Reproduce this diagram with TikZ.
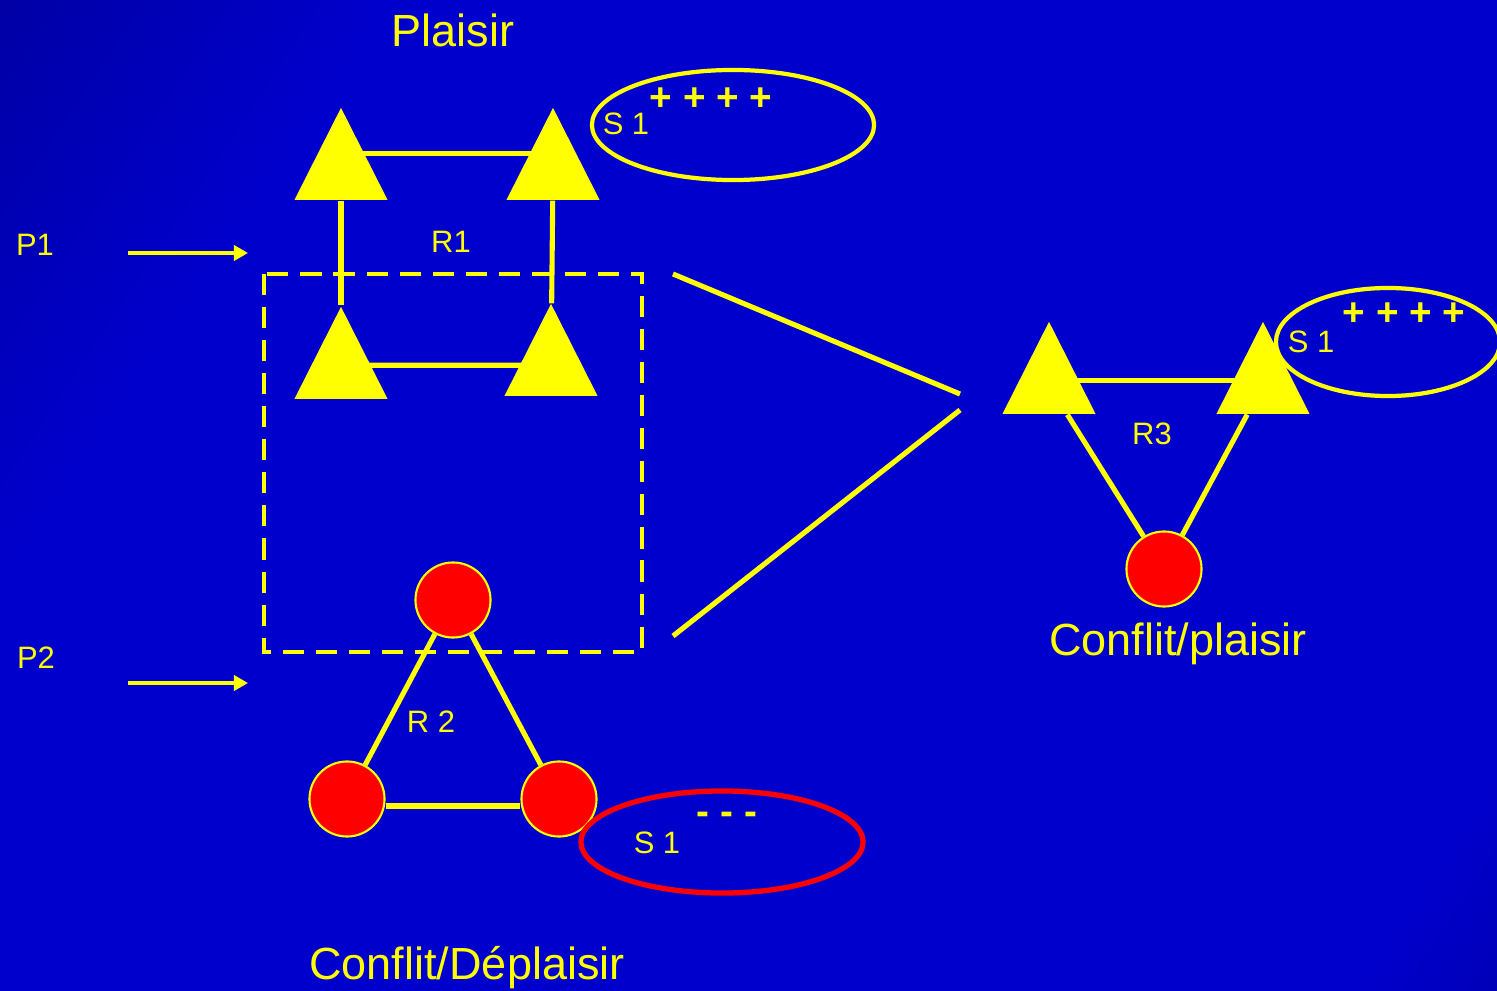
\documentclass[tikz,border=0pt]{standalone}
\usepackage{fontspec}
\setmainfont{Liberation Sans}
\usetikzlibrary{shapes.geometric,arrows.meta}
\definecolor{bgdark}{RGB}{0,0,118}
\definecolor{bgblue}{RGB}{0,0,205}
\definecolor{ylw}{RGB}{255,255,0}
\pgfdeclarehorizontalshading{bgshade}{100bp}{color(0bp)=(bgdark); color(28bp)=(bgblue); color(80bp)=(bgblue); color(100bp)=(bgdark)}

\begin{document}
\begin{tikzpicture}[x=0.01cm, y=-0.01cm,
    tri/.style={isosceles triangle, isosceles triangle stretches, shape border rotate=90,
      fill=ylw, inner sep=0pt, minimum width=0.93cm, minimum height=0.92cm, anchor=apex},
    dot/.style={circle, fill=red, draw=ylw, line width=0.6pt, minimum size=0.75cm, inner sep=0pt},
    ring/.style={ellipse, draw=ylw, line width=1.2pt, inner sep=0pt},
    lbl/.style={text=ylw, inner sep=0pt, font=\fontsize{8.8}{10}\selectfont},
    title/.style={text=ylw, inner sep=0pt, font=\fontsize{12.8}{15}\selectfont},
    plus/.style={text=ylw, inner sep=0pt, font=\bfseries\fontsize{11}{13}\selectfont},
    link/.style={draw=ylw, line width=1.45pt}]
    \useasboundingbox (0,0) rectangle (1497,991);
    \shade[shading=bgshade, shading angle=-33.5] (0,0) rectangle (1497,991);

    % Titles
    \node[title] (plaisir) at (453,30) {Plaisir};
    \node[title] (cplaisir) at (1178,644) {Conflit/plaisir};
    \node[title] (cdeplaisir) at (467,968) {Conflit/Déplaisir};

    % Inputs
    \node[lbl] (p1) at (35,245) {P1};
    \node[lbl] (p2) at (36,658) {P2};
    \coordinate (p1s) at (128,253);
    \coordinate (p1e) at (248,253);
    \coordinate (p2s) at (128,683);
    \coordinate (p2e) at (248,683);
    \draw[link, line width=1.1pt, -{Triangle[length=4pt, width=4.3pt]}] (p1s) -- (p1e);
    \draw[link, line width=1.1pt, -{Triangle[length=4pt, width=4.3pt]}] (p2s) -- (p2e);

    % R1
    \node[tri] (a1) at (341,106) {};
    \node[tri] (a2) at (553,106) {};
    \node[tri] (b1) at (341,305) {};
    \node[tri] (b2) at (551,302) {};
    \draw[link] ([yshift=0.18cm]a1.center) -- ([yshift=0.18cm]a2.center);
    \draw[link] ([yshift=0.05cm]b1.center) -- ([yshift=0.02cm]b2.center);
    \draw[link] (a1) -- (b1);
    \draw[link] (a2) -- (b2);
    \node[lbl] (r1) at (451,242) {R1};

    % S1 of R1
    \node[ring, minimum width=2.82cm, minimum height=1.1cm] (s1a) at (733,125) {};
    \node[lbl] (s1alab) at (626,124) {S 1};
    \node[plus] (s1aplus) at (711,99) {+ + + +};

    % R2
    \draw[ylw, line width=1.35pt, dash pattern=on 6pt off 3.4pt] (264,274) rectangle (642,652);
    \node[dot] (c1) at (453,600) {};
    \node[dot] (c2) at (347,799) {};
    \node[dot] (c3) at (559,799) {};
    \draw[link] (c1) -- (c2);
    \draw[link] (c1) -- (c3);
    \draw[link] ([yshift=-0.07cm]c2.east) -- ([yshift=-0.07cm]c3.west);
    \node[lbl] (r2) at (431,722) {R 2};

    % S1 of R2
    \node[ring, draw=red, line width=1.5pt, minimum width=2.82cm, minimum height=1.02cm] (s1c) at (722,842) {};
    \node[lbl] (s1clab) at (657,843) {S 1};
    \node[plus] (s1cminus) at (727,818) {- - -};

    % Merge
    \coordinate (m1) at (673,274);
    \coordinate (m2) at (673,636);
    \coordinate (tip1) at (960,394);
    \coordinate (tip2) at (960,410);
    \draw[link] (m1) -- (tip1);
    \draw[link] (m2) -- (tip2);

    % R3
    \node[tri] (d1) at (1049,320) {};
    \node[tri] (d2) at (1263,320) {};
    \node[dot] (e1) at (1164,569) {};
    \draw[link] ([yshift=0.05cm]d1.center) -- ([yshift=0.05cm]d2.center);
    \draw[link] (d1) -- (e1);
    \draw[link] (d2) -- (e1);
    \node[lbl] (r3) at (1152,434) {R3};

    % S1 of R3
    \node[ring, minimum width=2.24cm, minimum height=1.08cm] (s1b) at (1388,342) {};
    \node[lbl] (s1blab) at (1311,342) {S 1};
    \node[plus] (s1bplus) at (1404,314) {+ + + +};
\end{tikzpicture}
\end{document}
